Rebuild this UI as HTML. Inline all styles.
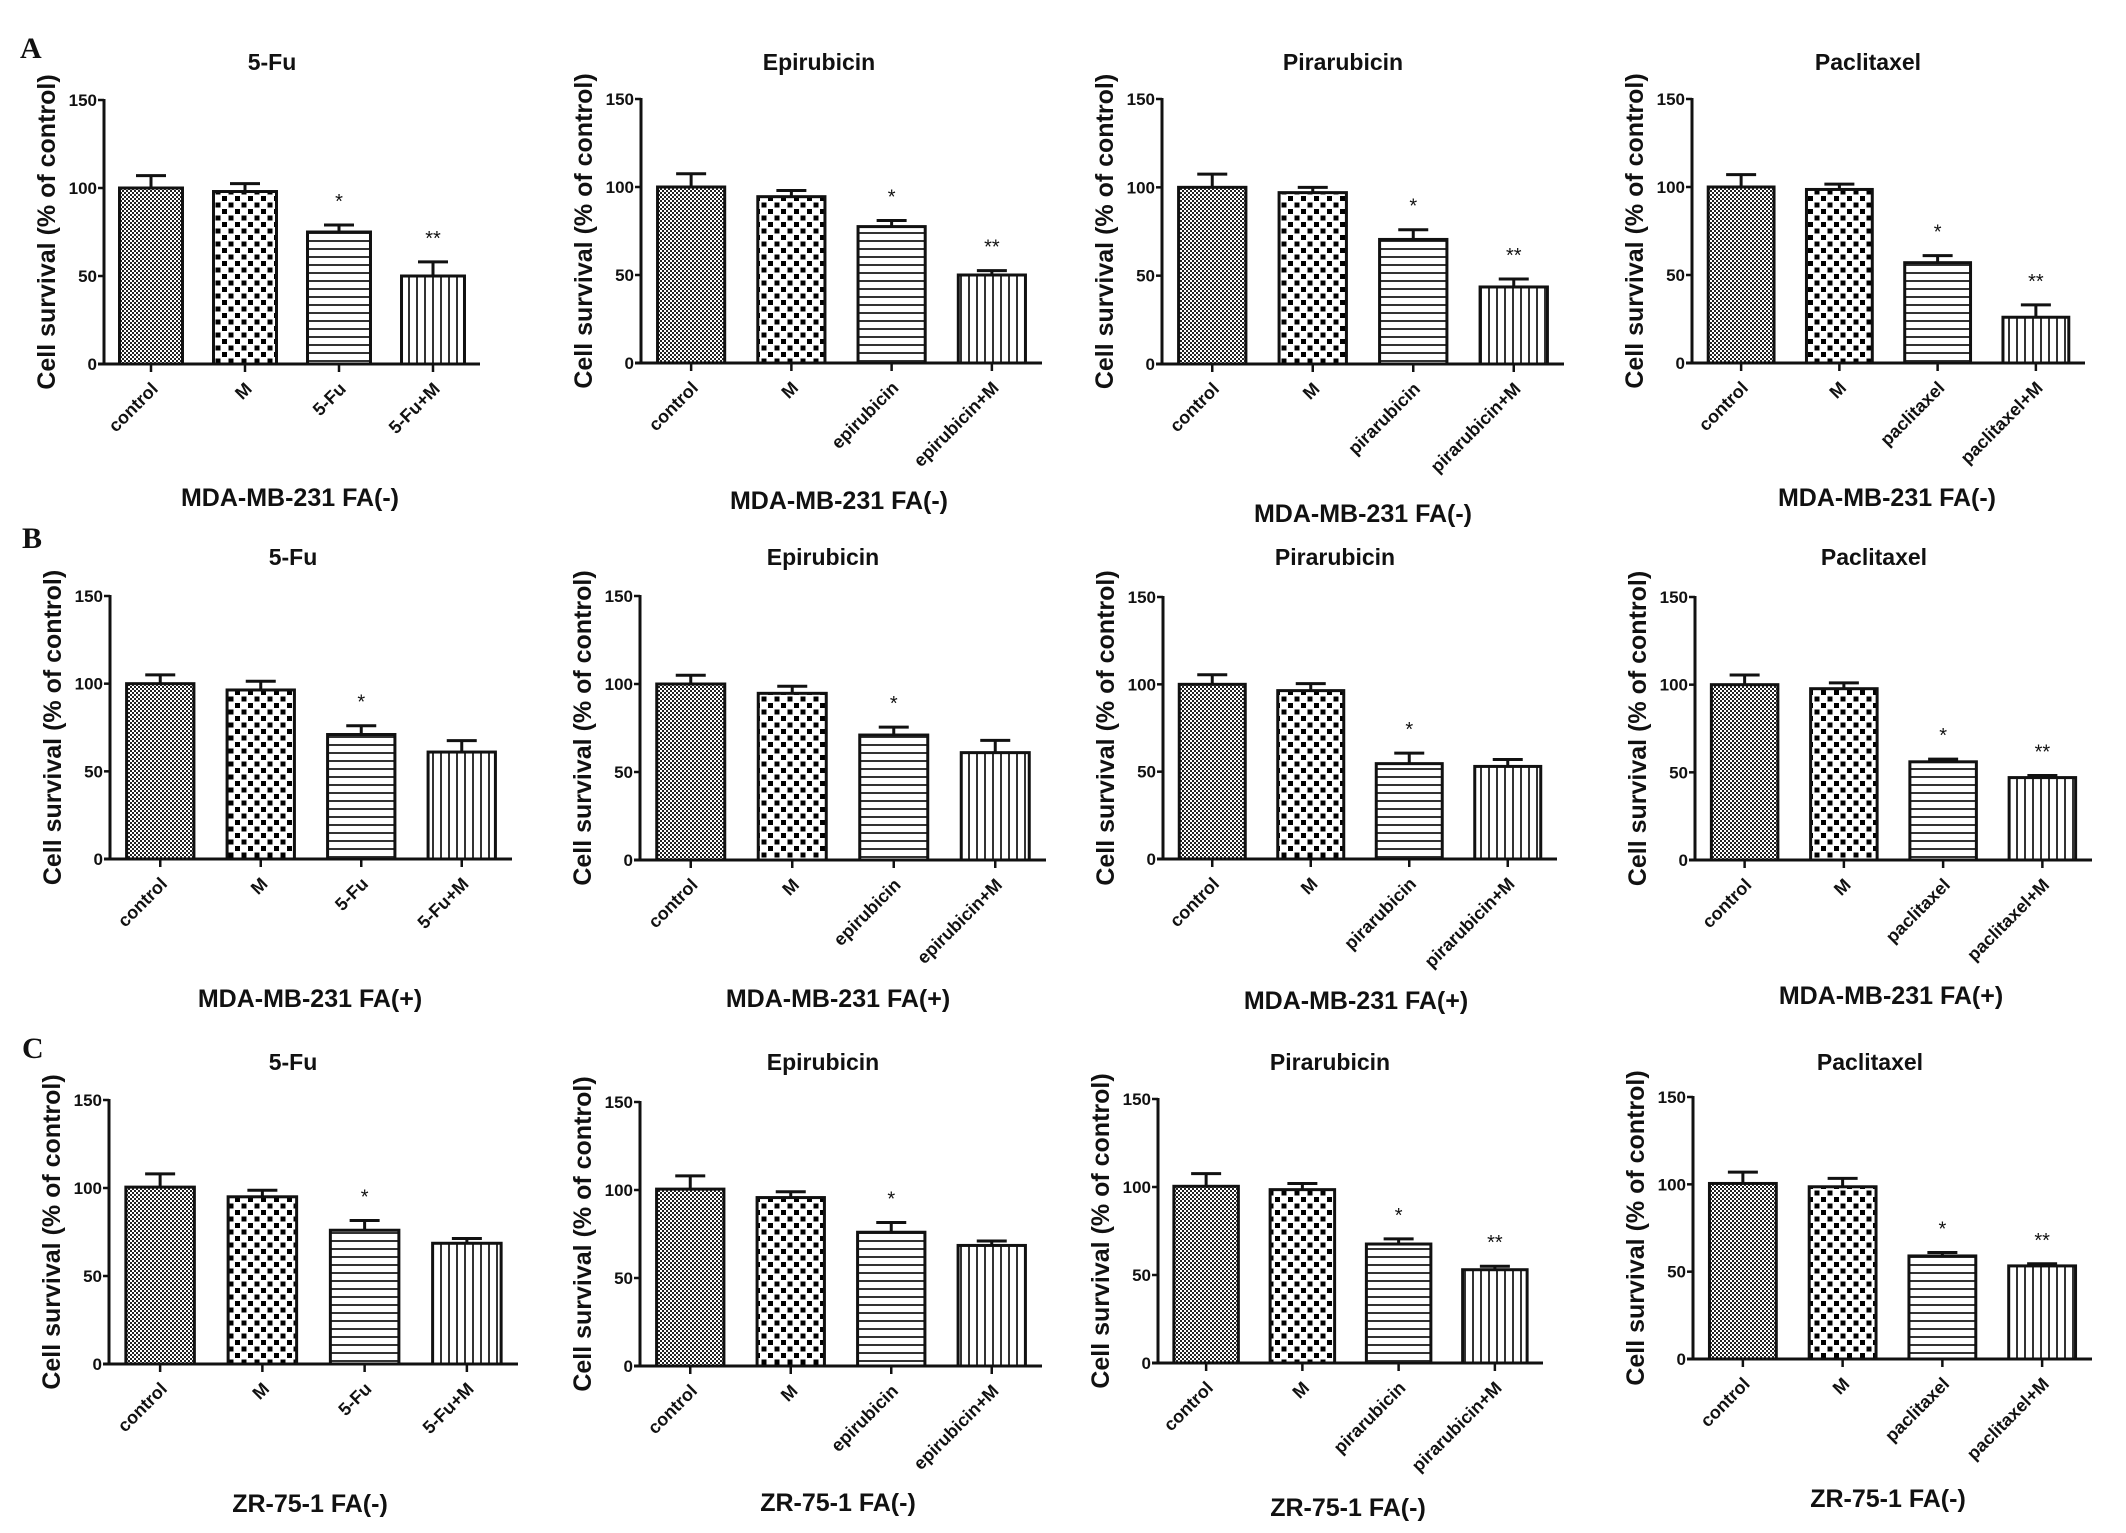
<!DOCTYPE html>
<html><head><meta charset="utf-8"><style>
html,body{margin:0;padding:0;background:#fff}
svg{display:block}
text{font-family:"Liberation Sans",Arial,sans-serif;fill:#111}
</style></head><body>
<svg id="fig" width="2126" height="1533" viewBox="0 0 2126 1533" xmlns="http://www.w3.org/2000/svg">
<defs>
<pattern id="pFine" width="4" height="4" patternUnits="userSpaceOnUse"><rect width="4" height="4" fill="#fff"/><rect width="2" height="2" fill="#222"/><rect x="2" y="2" width="2" height="2" fill="#222"/></pattern>
<pattern id="pCoarse" width="13" height="13" patternUnits="userSpaceOnUse"><rect width="13" height="13" fill="#fff"/><rect x="1" y="1" width="5" height="5" fill="#000"/><rect x="7.5" y="7.5" width="5" height="5" fill="#000"/></pattern>
<pattern id="pH" width="8" height="8" patternUnits="userSpaceOnUse"><rect width="8" height="8" fill="#fff"/><rect y="0" width="8" height="2" fill="#333"/></pattern>
<pattern id="pV" width="8" height="8" patternUnits="userSpaceOnUse"><rect width="8" height="8" fill="#fff"/><rect x="0" width="2" height="8" fill="#333"/></pattern>
</defs>
<text x="20" y="58" style="font-family:'Liberation Serif',serif;font-weight:bold;font-size:30px">A</text>
<text x="22" y="548" style="font-family:'Liberation Serif',serif;font-weight:bold;font-size:30px">B</text>
<text x="22" y="1058" style="font-family:'Liberation Serif',serif;font-weight:bold;font-size:30px">C</text>
</svg>
<script>
const drugs = ["5-Fu", "Epirubicin", "Pirarubicin", "Paclitaxel"];
const drugLabels = ["5-Fu", "epirubicin", "pirarubicin", "paclitaxel"];
const rowLabels = ["MDA-MB-231 FA(-)", "MDA-MB-231 FA(+)", "ZR-75-1 FA(-)"];
const yTicks = [0, 50, 100, 150];
// means [row][drug][group]
const meansA = [[100, 98, 75, 50], [100, 94.5, 77.5, 50], [100, 97, 70.5, 43.6], [100, 98.6, 57, 26]];
const errsA  = [[7, 4.5, 4, 8], [7.5, 3.5, 3.5, 2.5], [7.5, 3, 5.5, 4.5], [7, 3, 4, 7]];
const starsA = [["", "", "*", "**"], ["", "", "*", "**"], ["", "", "*", "**"], ["", "", "*", "**"]];
const meansB = [[100, 96.4, 71, 61], [100, 94.7, 71, 61], [100, 96.4, 54.6, 53], [100, 97.7, 56, 47]];
const errsB  = [[5, 5, 5, 6.5], [5, 4, 4.5, 7], [5.5, 4, 6, 4], [5.5, 3.3, 1.5, 1.2]];
const starsB = [["", "", "*", ""], ["", "", "*", ""], ["", "", "*", ""], ["", "", "*", "**"]];
const meansC = [[100.5, 95, 76, 68.6], [100.5, 95.7, 76, 68.5], [100.4, 98.5, 67.6, 53], [100.5, 98.6, 59, 53.3]];
const errsC  = [[7.5, 3.7, 5.5, 2.7], [7.5, 3.3, 5.5, 2.5], [7.2, 3.5, 2.9, 2], [6.5, 4.8, 2, 1.2]];
const starsC = [["", "", "*", ""], ["", "", "*", ""], ["", "", "*", "**"], ["", "", "*", "**"]];
const meansAll = [meansA, meansB, meansC];
const errsAll = [errsA, errsB, errsC];
const starsAll = [starsA, starsB, starsC];

// layout (pixel geometry per panel)
const layout = [
 [[104,480,364,100],[641,1042,363,99],[1162,1564,364,99],[1692,2085,363,99]],
 [[110,512,859,596],[640,1046,860,596],[1163,1557,859,597],[1695,2092,860,597]],
 [[109,518,1364,1100],[640,1042,1366,1102],[1158,1543,1363,1099],[1693,2092,1359,1097]]
];
const titlePos = [[[272,70],[819,70],[1343,70],[1868,70]],[[293,565],[823,565],[1335,565],[1874,565]],[[293,1070],[823,1070],[1330,1070],[1870,1070]]];
const bottomPos = [[[290,506],[839,509],[1363,522],[1887,506]],[[310,1007],[838,1007],[1356,1009],[1891,1004]],[[310,1512],[838,1511],[1348,1516],[1888,1507]]];
const fills = ["url(#pFine)", "url(#pCoarse)", "url(#pH)", "url(#pV)"];

const NS = "http://www.w3.org/2000/svg";
const svg = document.getElementById("fig");
function mk(tag, attrs, parent, txt) {
  const e = document.createElementNS(NS, tag);
  for (const k in attrs) e.setAttribute(k, attrs[k]);
  if (txt !== undefined) e.textContent = txt;
  (parent || svg).appendChild(e);
  return e;
}

for (let r = 0; r < 3; r++) {
  for (let d = 0; d < 4; d++) {
    const [ax, ex, y0, y150] = layout[r][d];
    const g = mk("g", {});
    
    
    const yS = v => y0 - (v / 150) * (y0 - y150);
    const W = ex - ax, step = W / 4, bw = step * 0.67;
    const xC = i => ax + step / 2 + i * step;
    const cats = ["control", "M", drugLabels[d], drugLabels[d] + "+M"];

    const t = mk("text", {x: titlePos[r][d][0], y: titlePos[r][d][1], "text-anchor": "middle", "font-size": "23", "font-weight": "bold"}, g, drugs[d]);
    
    

    const yt = mk("text", {x: 0, y: 0, "text-anchor": "middle", "font-size": "25", "font-weight": "bold", transform: `translate(${ax - 49},${(y0 + y150) / 2}) rotate(-90)`}, g, "Cell survival (% of control)");
    
    

    // bars
    for (let i = 0; i < 4; i++) {
      const m = meansAll[r][d][i], e = errsAll[r][d][i];
      const cx = xC(i);
      const el = mk("line", {x1: cx, x2: cx, y1: yS(m), y2: yS(m + e), stroke: "#111", "stroke-width": 3}, g);
      
      
      const cap = mk("line", {x1: cx - 15, x2: cx + 15, y1: yS(m + e), y2: yS(m + e), stroke: "#111", "stroke-width": 3}, g);
      
      
      const b = mk("rect", {x: cx - bw / 2, y: yS(m), width: bw, height: y0 - yS(m), fill: fills[i], stroke: "#111", "stroke-width": 3}, g);
      
      
      const s = starsAll[r][d][i];
      if (s) {
        const st = mk("text", {x: cx, y: yS(m + e) - 17, "text-anchor": "middle", "font-size": "20", fill: "#333"}, g, s);
        
        
      }
      const tk = mk("line", {x1: cx, x2: cx, y1: y0, y2: y0 + 8, stroke: "#111", "stroke-width": 2.5}, g);
      
      
      const lb = mk("text", {x: 0, y: 0, "text-anchor": "end", "font-size": "18", "font-weight": "bold", transform: `translate(${cx + 8},${y0 + 26}) rotate(-45)`}, g, cats[i]);
      
      
    }
    // axes
    const ya = mk("line", {x1: ax, x2: ax, y1: y150 - 1, y2: y0 + 1.5, stroke: "#111", "stroke-width": 3}, g);
    
    
    const xa = mk("line", {x1: ax - 6, x2: ex, y1: y0, y2: y0, stroke: "#111", "stroke-width": 3}, g);
    
    
    for (const v of yTicks) {
      const yy = yS(v);
      const tl = mk("line", {x1: ax - 6, x2: ax, y1: yy, y2: yy, stroke: "#111", "stroke-width": 2.5}, g);
      
      
      const tx = mk("text", {x: ax - 7, y: yy + 6, "text-anchor": "end", "font-size": "17", "font-weight": "bold"}, g, String(v));
      
      
    }
    const bl = mk("text", {x: bottomPos[r][d][0], y: bottomPos[r][d][1], "text-anchor": "middle", "font-size": "25", "font-weight": "bold"}, g, rowLabels[r]);
    
    
  }
}
</script>
</body></html>
